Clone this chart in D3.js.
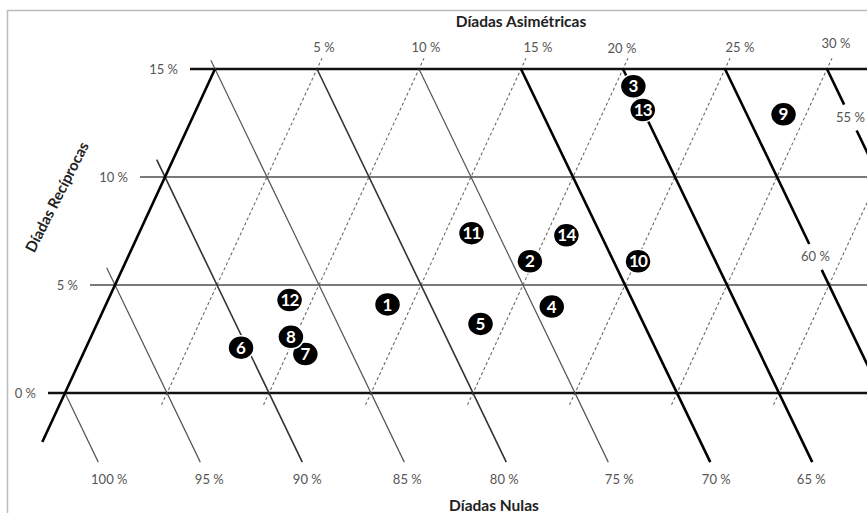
<!DOCTYPE html>
<html>
<head>
<meta charset="utf-8">
<script src="https://cdn.jsdelivr.net/npm/d3@7/dist/d3.min.js"></script>
<style>
  html, body { margin: 0; padding: 0; background: #fff; }
  svg { display: block; font-family: Lato, "Liberation Sans", sans-serif; }
</style>
</head>
<body>
<svg id="chart" width="867" height="513"></svg>
<script>
// Percentages of the three dyad types (they add up to 100 %)
const reciprocalTicks = [0, 5, 10, 15];
const asymmetricTicks = [5, 10, 15, 20, 25, 30];
const nullTicks = [100, 95, 90, 85, 80, 75, 70, 65];
const nullSideTicks = [60, 55];

const dyadIds = [1, 2, 3, 4, 5, 6, 7, 8, 9, 10, 11, 12, 13, 14];
const reciprocalPct = [4.1, 6.1, 14.2, 4.0, 3.2, 2.1, 1.8, 2.6, 12.9, 6.1, 7.4, 4.3, 13.1, 7.3];
const asymmetricPct = [13.8, 19.8, 20.9, 21.9, 18.8, 7.6, 10.9, 9.8, 28.9, 25.1, 16.3, 8.9, 21.9, 21.0];

// ---- layout ----
const W = 867, H = 513;
const svg = d3.select("#chart");

// vertical axis: reciprocal %, horizontal axis: asymmetric %, sheared by reciprocal %
const y = d3.scaleLinear().domain([0, 15]).range([393, 69]);
const xa = d3.scaleLinear().domain([0, 30]).range([65, 677]);
const shear = d3.scaleLinear().domain([0, 15]).range([0, 150]);
const px = (r, a) => xa(a) + shear(r);
const pt = (r, a) => [px(r, a), y(r)];

// small hand nudges for tick label placement
const topLabelNudge = [2, 2, 12, -6, 10, 4];
const topLabelY = [47, 47, 47, 48, 47, 43];
const bottomLabelNudge = [11, 9, 5, 3, -2, 11, 6, -1];

const line = d3.line();
const tickSize = 13;

// frame
svg.append("path").attr("d", line([[7.5, H], [7.5, 10.5], [W, 10.5]]))
  .attr("fill", "none").attr("stroke", "#bdbdbd").attr("stroke-width", 1.5);

const g = svg.append("g");

// dashed lines of constant asymmetric %
d3.range(5, 40, 5).forEach(a => {
  g.append("path").attr("d", line([pt(-0.55, a), pt(15.5, a)]))
    .attr("fill", "none").attr("stroke", "#6a6a6a").attr("stroke-width", 1.1)
    .attr("stroke-dasharray", "3,2.5");
});

// horizontal lines of constant reciprocal %
reciprocalTicks.forEach(r => {
  const bold = (r === 0 || r === 15);
  const x0 = px(r, 0) - (r === 0 ? 17 : 25);
  g.append("line").attr("x1", x0).attr("x2", W + 10)
    .attr("y1", y(r)).attr("y2", y(r))
    .attr("stroke", bold ? "#111" : "#7a7a7a").attr("stroke-width", bold ? 2.6 : 1.8);
  g.append("text").attr("x", x0 - 12).attr("y", y(r)).attr("dy", "0.35em")
    .attr("text-anchor", "end").attr("font-size", tickSize).attr("fill", "#555")
    .text(r + " %");
});

// lines of constant null %
function nullStyle(n) {
  if (n <= 70) return { c: "#000", w: 2.6 };
  if (n === 90 || n === 80) return { c: "#333", w: 1.6 };
  return { c: "#555", w: 1.2 };
}
const nullAll = nullTicks.concat(nullSideTicks);
nullAll.forEach(n => {
  const st = nullStyle(n);
  const rTop = n >= 100 ? 0 : n > 85 ? 100 - n + 0.8 : n === 85 ? 15.4 : 15;
  const rBot = -3.2;
  const at = r => pt(r, 100 - n - r);
  let segs = [[rTop, rBot]];
  const side = nullSideTicks.indexOf(n);
  let rLab = null;
  if (side >= 0) {
    rLab = n === 60 ? 6.3 : 12.75;
    segs = [[rTop, rLab + 0.6], [rLab - 0.6, rBot]];
  }
  segs.forEach(s => {
    g.append("path").attr("d", line([at(s[0]), at(s[1])]))
      .attr("fill", "none").attr("stroke", st.c).attr("stroke-width", st.w);
  });
  if (rLab !== null) {
    const p = at(rLab);
    g.append("text").attr("x", p[0]).attr("y", p[1]).attr("dy", "0.35em")
      .attr("text-anchor", "middle").attr("font-size", tickSize).attr("fill", "#555")
      .text(n + " %");
  }
});

// left edge (asymmetric 0 %)
g.append("path").attr("d", line([pt(-2.27, 0), pt(15, 0)]))
  .attr("fill", "none").attr("stroke", "#000").attr("stroke-width", 2.6);

// top tick labels (asymmetric %)
asymmetricTicks.forEach((a, i) => {
  g.append("text").attr("x", px(15.5, a) + topLabelNudge[i]).attr("y", topLabelY[i])
    .attr("dy", "0.35em").attr("text-anchor", "middle")
    .attr("font-size", tickSize).attr("fill", "#555").text(a + " %");
});

// bottom tick labels (null %)
nullTicks.forEach((n, i) => {
  const p = pt(-3.2, 100 - n + 3.2);
  g.append("text").attr("x", p[0] + bottomLabelNudge[i]).attr("y", p[1] + 17)
    .attr("dy", "0.35em").attr("text-anchor", "middle")
    .attr("font-size", tickSize).attr("fill", "#555").text(n + " %");
});

// axis titles
svg.append("text").attr("x", 521).attr("y", 22).attr("dy", "0.35em")
  .attr("text-anchor", "middle").attr("font-size", 15.5).attr("font-weight", "bold")
  .attr("fill", "#222").text("Díadas Asimétricas");
svg.append("text").attr("x", 494).attr("y", 506).attr("dy", "0.35em")
  .attr("text-anchor", "middle").attr("font-size", 15.5).attr("font-weight", "bold")
  .attr("fill", "#222").text("Díadas Nulas");
svg.append("text").attr("transform", "translate(57,197) rotate(-63)")
  .attr("dy", "0.35em").attr("text-anchor", "middle").attr("font-size", 15)
  .attr("font-weight", "bold").attr("fill", "#222").text("Díadas Recíprocas");

// dyad markers
const dyads = dyadIds.map((id, i) => ({ id, r: reciprocalPct[i], a: asymmetricPct[i] }));
const mk = svg.append("g").selectAll("g").data(dyads).join("g")
  .attr("transform", d => `translate(${px(d.r, d.a)},${y(d.r)})`);
mk.append("ellipse").attr("rx", 13).attr("ry", 12)
  .attr("fill", "#000").attr("stroke", "#fff").attr("stroke-width", 1.5);
mk.append("text").attr("dy", "0.36em").attr("text-anchor", "middle")
  .attr("font-size", 17).attr("font-weight", "bold").attr("fill", "#fff")
  .attr("letter-spacing", d => d.id > 9 ? -0.8 : 0)
  .text(d => d.id);
</script>
</body>
</html>
